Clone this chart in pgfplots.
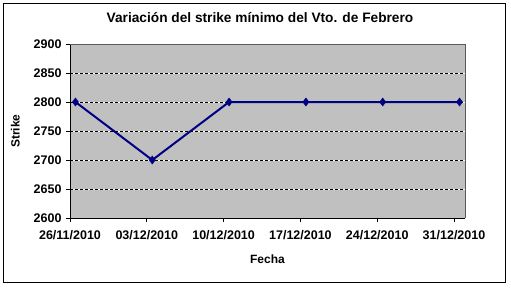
\documentclass[border=0pt]{standalone}
\usepackage{fontspec}
\setmainfont{Liberation Sans}
\usepackage{pgfplots}
\pgfplotsset{compat=1.18}
\definecolor{plotbg}{RGB}{192,192,192}
\definecolor{navyline}{RGB}{0,0,128}
\begin{document}
\begin{tikzpicture}[x=1pt,y=1pt]
\path[use as bounding box] (-70,-69) rectangle (441,218);
\draw[black, line width=1pt] (-66,-64) rectangle (435,214);
\begin{axis}[
  at={(0,0)}, anchor=south west,
  scale only axis, width=395pt, height=174pt,
  xmin=0, xmax=36, ymin=2600, ymax=2900,
  xtick={0,7,14,21,28,35},
  xticklabels={26/11/2010,03/12/2010,10/12/2010,17/12/2010,24/12/2010,31/12/2010},
  ytick={2600,2650,...,2900},
  axis x line*=bottom, axis y line*=left,
  axis line style={black, line width=0.8pt, -},
  tick align=outside, major tick length=4pt,
  tick style={black, line width=0.8pt},
  ymajorgrids,
  major grid style={white, line width=0.8pt, postaction={draw, black, dash pattern=on 3pt off 2pt}},
  axis background/.style={fill=plotbg},
  ticklabel style={font=\fontsize{12.5}{14}\selectfont\bfseries},
  /pgf/number format/assume math mode=true,
  /pgf/number format/1000 sep={},
  yticklabel style={xshift=-1pt},
  xticklabel style={yshift=-5pt},
  xlabel={Fecha}, ylabel={Strike},
  label style={font=\fontsize{12}{14}\selectfont\bfseries},
  xlabel style={yshift=-8pt},
  ylabel style={yshift=7pt},
  clip=false,
]
\addplot[navyline, line width=2pt, mark=diamond*, mark size=4pt, mark options={fill=navyline, draw=navyline, line width=0.5pt}]
coordinates {(0.5,2800) (7.5,2700) (14.5,2800) (21.5,2800) (28.5,2800) (35.5,2800)};
\draw[gray!70!black, line width=0.6pt] (rel axis cs:0,1) -- (rel axis cs:1,1) -- (rel axis cs:1,0);
\end{axis}
\node[font=\fontsize{13.7}{16}\selectfont\bfseries] at (190,200) {Variación del strike mínimo del Vto. de Febrero};
\end{tikzpicture}
\end{document}
